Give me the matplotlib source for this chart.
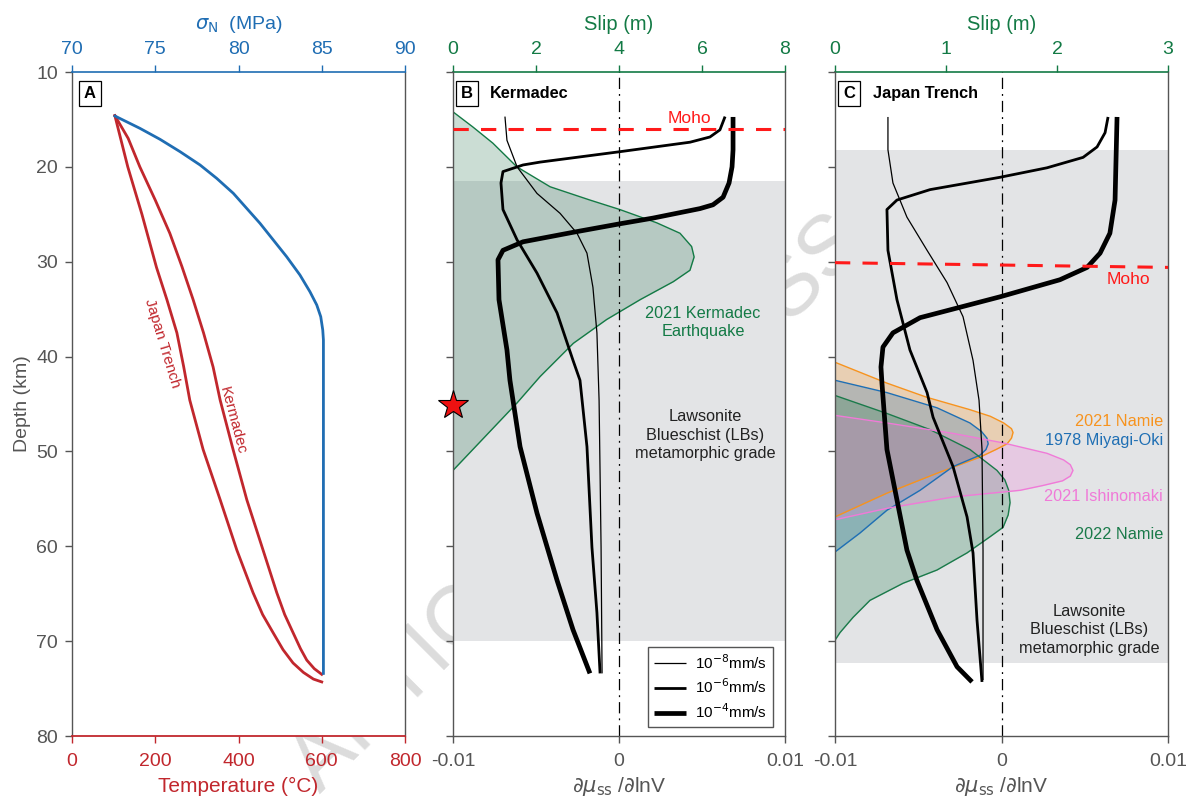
import numpy as np
import matplotlib.pyplot as plt

plt.rcParams['font.family'] = ['Liberation Sans', 'DejaVu Sans']
plt.rcParams['mathtext.fontset'] = 'dejavusans'

RED = '#c1272d'
BLUE = '#1f6db3'
GREEN = '#137a45'
GREY = '#555555'
BAND = '#e3e4e6'
MOHO = '#ff1a1a'

# ---- panel A: thermal and normal stress profiles ----
sig_depth = [14.64, 15.94, 17.10, 18.40, 19.80, 21.21, 22.79, 24.37, 25.95, 27.71, 29.47,
             31.40, 33.16, 34.56, 35.80, 37.20, 38.25, 73.4]
sig_mpa = [72.58, 74.08, 75.29, 76.49, 77.69, 78.69, 79.69, 80.49, 81.29, 82.09, 82.89,
           83.69, 84.29, 84.70, 84.94, 85.06, 85.10, 85.10]

kerm_T_depth = [14.6, 17.0, 20.0, 23.5, 27.0, 30.5, 34.0, 37.5, 41.1, 44.6, 49.8, 55.1,
                60.4, 64.9, 67.2, 69.1, 70.8, 72.0, 72.9, 73.5]
kerm_T = [103, 135, 163, 200, 235, 264, 291, 316, 339, 356, 387, 420, 459, 492, 511, 531,
          549, 564, 582, 600]
jap_T_depth = [14.6, 20.0, 25.0, 30.6, 34.0, 37.5, 41.0, 44.6, 49.8, 55.1, 60.4, 64.9,
               67.2, 69.1, 70.9, 72.3, 73.3, 74.0, 74.3]
jap_T = [103, 134, 168, 203, 228, 252, 268, 283, 315, 356, 396, 435, 458, 483, 507, 531,
         556, 580, 600]

# ---- panel B: Kermadec rate dependence and slip ----
b_thin_depth = [14.7, 17.2, 20.0, 22.8, 24.9, 27.0, 29.1, 32.7, 37.5, 44.6, 60.1, 73.4]
b_thin = [-0.00687, -0.00675, -0.00614, -0.00494, -0.00355, -0.00253, -0.00193,
          -0.00157, -0.00133, -0.00120, -0.00108, -0.00102]
b_med_depth = [14.7, 16.1, 16.85, 17.4, 18.4, 19.5, 19.8, 20.5, 21.7, 24.5, 27.7, 31.2,
               35.4, 40.4, 42.5, 49.5, 60.1, 67.0, 73.4]
b_med = [0.00639, 0.00608, 0.00548, 0.00428, 0.00006, -0.00476, -0.00578, -0.00699,
         -0.00711, -0.00699, -0.00614, -0.00494, -0.00373, -0.00277, -0.00235, -0.00193,
         -0.00163, -0.00133, -0.00114]
b_thick_depth = [14.74, 18.2, 20.0, 21.7, 23.2, 24.0, 24.4, 25.4, 26.0, 26.9, 27.9, 28.8,
                 29.8, 34.0, 39.3, 42.5, 49.5, 56.5, 63.6, 68.8, 73.4]
b_thick = [0.00687, 0.00687, 0.00681, 0.00663, 0.00627, 0.00566, 0.00488, 0.00205, 0.00006,
           -0.00277, -0.00578, -0.00699, -0.00729, -0.00723, -0.00675, -0.00657, -0.00596,
           -0.00494, -0.00373, -0.00277, -0.00175]

kq_depth = [14.2, 15.8, 17.5, 20.0, 22.1, 23.5, 24.5, 25.9, 27.0, 28.4, 29.5, 30.9, 32.1,
            34.0, 36.1, 38.6, 42.1, 44.9, 52.0]
kq_slip = [0, 0.48, 0.96, 1.54, 2.34, 3.30, 4.02, 4.91, 5.47, 5.75, 5.81, 5.71, 5.31,
           4.51, 3.70, 2.90, 2.10, 1.54, 0]

# ---- panel C: Japan Trench rate dependence and slip ----
c_thin_depth = [14.74, 18.2, 21.7, 25.3, 28.8, 32.2, 35.8, 40.4, 44.6, 49.8, 60.4, 74.1]
c_thin = [-0.00682, -0.00682, -0.00652, -0.00568, -0.00447, -0.00327, -0.00231, -0.00171,
          -0.00135, -0.00117, -0.00111, -0.00111]
c_med_depth = [14.74, 16.4, 17.9, 19.0, 20.1, 21.1, 22.4, 23.5, 24.5, 28.8, 34.0, 39.3,
               43.8, 46.4, 51.6, 56.9, 60.7, 67.8, 74.3]
c_med = [0.00640, 0.00622, 0.00574, 0.00490, 0.00273, -0.00009, -0.00429, -0.00628,
         -0.00688, -0.00682, -0.00628, -0.00550, -0.00447, -0.00411, -0.00291, -0.00207,
         -0.00171, -0.00147, -0.00117]
c_thick_depth = [14.74, 23.5, 27.0, 29.1, 30.6, 31.9, 33.7, 34.8, 35.9, 37.5, 39.0, 41.1,
                 42.8, 49.8, 55.1, 60.4, 63.6, 68.8, 72.7, 74.3]
c_thick = [0.00694, 0.00682, 0.00651, 0.00592, 0.00514, 0.00351, -0.00009, -0.00249,
           -0.00489, -0.00652, -0.00712, -0.00724, -0.00718, -0.00688, -0.00628, -0.00568,
           -0.00508, -0.00387, -0.00267, -0.00177]

namie21_depth = [40.6, 42.8, 44.3, 45.6, 46.3, 47.0, 47.6, 48.0, 48.6, 49.2, 49.8, 50.6,
                 52.3, 54.4, 56.9]
namie21_slip = [0, 0.468, 0.829, 1.216, 1.40, 1.52, 1.59, 1.604, 1.59, 1.55, 1.45, 1.306,
                0.919, 0.468, 0]
miyagi_depth = [42.5, 43.8, 45.4, 47.0, 47.9, 48.6, 49.2, 49.8, 50.4, 51.6, 54.1, 56.2,
                58.6, 60.6]
miyagi_slip = [0, 0.468, 0.919, 1.216, 1.32, 1.369, 1.38, 1.36, 1.306, 1.063, 0.766, 0.468,
               0.225, 0]
ishi_depth = [46.2, 47.0, 48.1, 49.1, 50.2, 50.9, 51.4, 52.0, 52.6, 53.1, 53.6, 54.1, 54.8,
              56.0, 57.2]
ishi_slip = [0, 0.468, 1.063, 1.514, 1.910, 2.06, 2.12, 2.144, 2.12, 2.05, 1.87, 1.667,
             1.063, 0.468, 0]
namie22_depth = [44.1, 46.0, 47.7, 49.8, 52.0, 53.0, 54.1, 55.4, 56.7, 58.0, 59.0, 60.7,
                 62.5, 63.9, 65.7, 67.5, 69.1, 69.9]
namie22_slip = [0, 0.468, 0.856, 1.216, 1.459, 1.53, 1.565, 1.577, 1.56, 1.514, 1.396,
                1.189, 0.919, 0.613, 0.315, 0.162, 0.045, 0]

rate_labels = ['10$^{-8}$mm/s', '10$^{-6}$mm/s', '10$^{-4}$mm/s']
rate_widths = [0.9, 2.0, 3.4]

fig = plt.figure(figsize=(11.89, 8.06), dpi=100)
bot, hgt = 1 - 736 / 806, 664 / 806
axA = fig.add_axes([72 / 1189, bot, 333 / 1189, hgt])
axB = fig.add_axes([453 / 1189, bot, 332 / 1189, hgt])
axC = fig.add_axes([835 / 1189, bot, 333 / 1189, hgt])

# watermark sits behind the axes
fig.text(0.487, 0.374, 'ARTICLE IN PRESS', rotation=45, fontsize=61, color='#dcdcdc',
         ha='center', va='center', zorder=-10)

TICK_FS = 14
PANEL_FS = 11.7


def base_style(ax, bottom_color):
    ax.set_ylim(80, 10)
    ax.set_yticks(range(10, 81, 10))
    ax.tick_params(direction='out', length=5, width=1, colors=GREY, labelsize=TICK_FS,
                   pad=5)
    ax.tick_params(axis='x', colors=bottom_color, labelcolor=bottom_color, pad=7)
    for s in ['left', 'right']:
        ax.spines[s].set_color(GREY)
        ax.spines[s].set_linewidth(1)
    ax.spines['bottom'].set_color(bottom_color)
    ax.spines['bottom'].set_linewidth(1)
    ax.spines['top'].set_visible(False)


def top_style(ax, color):
    for s in ['left', 'right', 'bottom']:
        ax.spines[s].set_visible(False)
    ax.spines['top'].set_color(color)
    ax.spines['top'].set_linewidth(1.2)
    ax.tick_params(axis='x', direction='out', length=5, width=1, colors=color,
                   labelcolor=color, labelsize=TICK_FS, pad=5)


def panel_tag(ax, letter, title=None, title_x=0.11):
    ax.text(0.054 if title is None else 0.042, 0.967, letter, transform=ax.transAxes,
            fontsize=12, fontweight='bold', ha='center', va='center',
            bbox=dict(boxstyle='square,pad=0.3', fc='white', ec='black', lw=0.9))
    if title:
        ax.text(title_x, 0.967, title, transform=ax.transAxes, fontsize=PANEL_FS,
                fontweight='bold', ha='left', va='center')


# ---------------- A ----------------
base_style(axA, RED)
axA.set_xlim(0, 800)
axA.set_xticks([0, 200, 400, 600, 800])
axA.set_xlabel('Temperature (°C)', color=RED, fontsize=15, labelpad=5)
axA.set_ylabel('Depth (km)', color=GREY, fontsize=14, labelpad=4)
axA.spines['bottom'].set_linewidth(1.3)
axA.plot(kerm_T, kerm_T_depth, color=RED, lw=2)
axA.plot(jap_T, jap_T_depth, color=RED, lw=2)
axA.text(216, 38.6, 'Japan Trench', color=RED, fontsize=11, rotation=-73,
         ha='center', va='center')
axA.text(387, 46.7, 'Kermadec', color=RED, fontsize=11, rotation=-75,
         ha='center', va='center')
panel_tag(axA, 'A')

axAt = axA.twiny()
top_style(axAt, BLUE)
axAt.set_xlim(70, 90)
axAt.set_xticks([70, 75, 80, 85, 90])
axAt.set_xlabel(r'$\sigma_{\rm N}$  (MPa)', color=BLUE, fontsize=14, labelpad=9)
axAt.plot(sig_mpa, sig_depth, color=BLUE, lw=2)


def rate_panel(ax, top_max, top_ticks, band, curves):
    base_style(ax, GREY)
    ax.set_xlim(-0.01, 0.01)
    ax.set_xticks([-0.01, 0, 0.01])
    ax.set_xticklabels(['-0.01', '0', '0.01'])
    ax.tick_params(axis='y', labelleft=False)
    ax.set_xlabel(r'$\partial\mu_{\rm ss}$ /$\partial$lnV', color=GREY, fontsize=15,
                  labelpad=4)
    axt = ax.twiny()
    top_style(axt, GREEN)
    axt.set_xlim(0, top_max)
    axt.set_xticks(top_ticks)
    axt.set_xlabel('Slip (m)', color=GREEN, fontsize=14.5, labelpad=8)
    # slip axes goes underneath so the friction curves stay on top
    ax.set_zorder(2)
    axt.set_zorder(1)
    ax.patch.set_visible(False)
    axt.patch.set_visible(True)
    axt.patch.set_facecolor('white')
    axt.axhspan(band[0], band[1], color=BAND, lw=0, zorder=0)
    ax.axvline(0, color='black', lw=0.9, ls=(0, (9, 4, 1.5, 4)), zorder=1)
    handles = []
    for (xv, dv), lw, lab in zip(curves, rate_widths, rate_labels):
        h, = ax.plot(xv, dv, color='black', lw=lw, label=lab, solid_capstyle='butt',
                     solid_joinstyle='round', zorder=3)
        handles.append(h)
    return axt, handles


# ---------------- B ----------------
axBt, hB = rate_panel(axB, 8, [0, 2, 4, 6, 8], (21.5, 70.0),
                      [(b_thin, b_thin_depth), (b_med, b_med_depth),
                       (b_thick, b_thick_depth)])
axBt.fill_betweenx(kq_depth, 0, kq_slip, color='#3f8363', alpha=0.27, lw=0)
axBt.plot(kq_slip, kq_depth, color=GREEN, lw=1)
axB.axhline(16.0, color=MOHO, lw=2.2, ls=(0, (5, 4)), zorder=4)
axB.text(0.00422, 14.85, 'Moho', color=MOHO, fontsize=12.5, ha='center', va='center')
axB.plot(-0.01, 45.1, marker='*', ms=22, mfc='#ee1111', mec='black', mew=0.8,
         clip_on=False, zorder=10)
axB.text(0.00506, 36.4, '2021 Kermadec\nEarthquake', color=GREEN, fontsize=PANEL_FS,
         ha='center', va='center', linespacing=1.3)
axB.text(0.00518, 48.3, 'Lawsonite\nBlueschist (LBs)\nmetamorphic grade', color='#222222',
         fontsize=PANEL_FS, ha='center', va='center', linespacing=1.3)
panel_tag(axB, 'B', 'Kermadec', 0.111)
leg = axB.legend(handles=hB, loc='lower right', bbox_to_anchor=(0.965, 0.013),
                 borderaxespad=0, fontsize=11, handlelength=2.1, handletextpad=0.6,
                 labelspacing=0.4, fancybox=False, framealpha=1, edgecolor=GREY)
leg.get_frame().set_linewidth(1)
leg.set_zorder(6)

# ---------------- C ----------------
axCt, hC = rate_panel(axC, 3, [0, 1, 2, 3], (18.2, 72.3),
                      [(c_thin, c_thin_depth), (c_med, c_med_depth),
                       (c_thick, c_thick_depth)])
quakes = [(namie21_slip, namie21_depth, '#f7931e'),
          (miyagi_slip, miyagi_depth, '#1f6fb4'),
          (namie22_slip, namie22_depth, '#1a7a4a'),
          (ishi_slip, ishi_depth, '#f07ad8')]
for sv, dv, col in quakes:
    axCt.fill_betweenx(dv, 0, sv, color=col, alpha=0.25, lw=0)
    axCt.plot(sv, dv, color=col, lw=1)
axC.plot([-0.01, 0.01], [30.1, 30.6], color=MOHO, lw=2.2, ls=(0, (5, 4)), zorder=4)
axC.text(0.0076, 31.9, 'Moho', color=MOHO, fontsize=12.5, ha='center', va='center')
for lab, d, col in [('2021 Namie', 46.8, '#f7931e'), ('1978 Miyagi-Oki', 48.9, '#1f6fb4'),
                    ('2021 Ishinomaki', 54.8, '#f07ad8'), ('2022 Namie', 58.8, '#1a7a4a')]:
    axC.text(0.0097, d, lab, color=col, fontsize=PANEL_FS, ha='right', va='center')
axC.text(0.00526, 68.8, 'Lawsonite\nBlueschist (LBs)\nmetamorphic grade', color='#222222',
         fontsize=PANEL_FS, ha='center', va='center', linespacing=1.3)
panel_tag(axC, 'C', 'Japan Trench', 0.114)

fig.savefig('out.png', dpi=100)
